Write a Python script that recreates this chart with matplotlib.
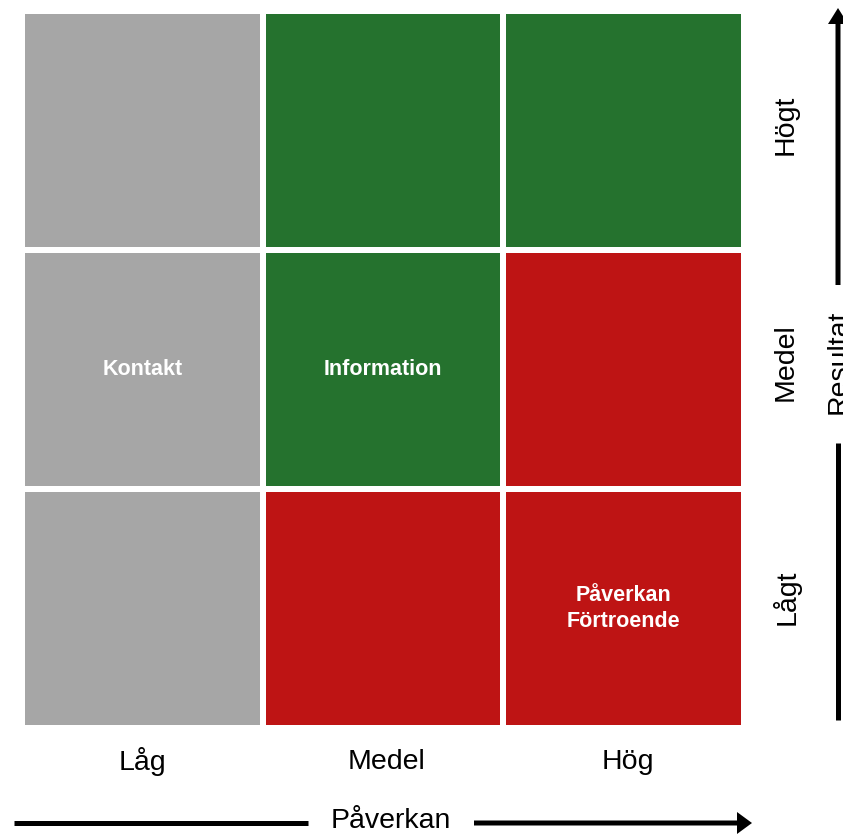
import matplotlib
matplotlib.use("Agg")
import matplotlib.pyplot as plt
from matplotlib.patches import FancyArrow

#### DATA #####
paverkan_levels = ["Låg", "Medel", "Hög"]          # x axis, left -> right
resultat_levels = ["Lågt", "Medel", "Högt"]        # y axis, bottom -> top
# colour class per cell, rows = resultat (Lågt, Medel, Högt), cols = paverkan
cell_class = [
    ["grey", "red", "red"],
    ["grey", "green", "red"],
    ["grey", "green", "green"],
]
cell_text = [
    ["", "", "Påverkan\nFörtroende"],
    ["Kontakt", "Information", ""],
    ["", "", ""],
]
x_title = "Påverkan"
y_title = "Resultat"

#### STYLE #####
COLORS = {"grey": "#A6A6A6", "green": "#25722E", "red": "#BE1414"}
GAP = 0.0125
W, H = 843, 834
LINE_PX = 5
plt.rcParams["font.family"] = ["Liberation Sans", "DejaVu Sans"]

fig = plt.figure(figsize=(W / 100, H / 100), dpi=100)

##### grid of cells #####
# axes placed in pixel units (left, top, right, bottom)
l, t, r, b = 22, 11, 744, 728
ax = fig.add_axes([l / W, 1 - b / H, (r - l) / W, (b - t) / H])
for i, row in enumerate(cell_class):
    for j, cls in enumerate(row):
        ax.bar(j + 0.5, 1 - 2 * GAP, bottom=i + GAP, width=1 - 2 * GAP,
               color=COLORS[cls], linewidth=0)
        if cell_text[i][j]:
            ax.text(j + 0.5, i + 0.5, cell_text[i][j], ha="center", va="center",
                    color="white", fontsize=15.5, fontweight="bold",
                    linespacing=1.35)
ax.set_xlim(0, 3)
ax.set_ylim(0, 3)
ax.axis("off")

##### labels + arrows overlay (pixel coords) #####
ov = fig.add_axes([0, 0, 1, 1], zorder=-1)
ov.set_xlim(0, W)
ov.set_ylim(H, 0)
ov.axis("off")

col_px = [142, 386, 628]
for x, lab in zip(col_px, paverkan_levels):
    ov.text(x, 762, lab, ha="center", va="center", fontsize=20.5)

row_px = [597, 362, 125]
for y, lab in zip(row_px, resultat_levels):
    ov.text(786, y, lab, ha="center", va="center", rotation=90, fontsize=20.5)

lw_pt = LINE_PX * 72 / 100

# x axis arrow with title in the gap
ov.plot([14, 308], [823, 823], color="black", lw=lw_pt, solid_capstyle="butt")
ov.add_patch(FancyArrow(474, 823, 278, 0, width=LINE_PX, head_width=22,
                        head_length=15, length_includes_head=True,
                        color="black", lw=0))
ov.text(391, 821, x_title, ha="center", va="center", fontsize=20.5)

# y axis arrow with title in the gap
ov.plot([838, 838], [720, 443], color="black", lw=lw_pt, solid_capstyle="butt")
ov.add_patch(FancyArrow(838, 285, 0, -277, width=LINE_PX, head_width=20,
                        head_length=16, length_includes_head=True,
                        color="black", lw=0))
ov.text(826, 362, y_title, ha="left", va="center", rotation=90, fontsize=20.5)

fig.savefig("out.png", dpi=100)
